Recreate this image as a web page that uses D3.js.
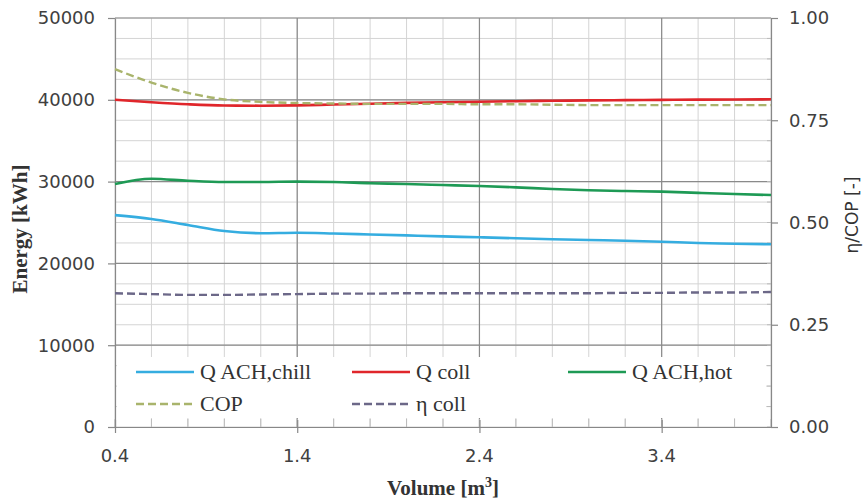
<!DOCTYPE html>
<html>
<head>
<meta charset="utf-8">
<script src="https://cdn.jsdelivr.net/npm/d3@7"></script>
<style>
  body { margin: 0; background: #fff; }
  svg { display: block; }
</style>
</head>
<body>
<svg id="chart" width="865" height="501"></svg>
<script>
/* data */
var volume     = [0.4, 0.6, 0.8, 1.0, 1.2, 1.4, 1.6, 1.8, 2.0, 2.2, 2.4, 2.6, 2.8, 3.0, 3.2, 3.4, 3.6, 3.8, 4.0];
var qAchChill  = [25900, 25430, 24700, 23960, 23690, 23750, 23660, 23540, 23420, 23300, 23190, 23070, 22960, 22860, 22770, 22650, 22500, 22410, 22340];
var qColl      = [40000, 39700, 39450, 39300, 39280, 39320, 39420, 39520, 39620, 39700, 39770, 39830, 39880, 39930, 39960, 39990, 40020, 40040, 40060];
var qAchHot    = [29700, 30350, 30100, 29950, 29950, 30000, 29950, 29800, 29700, 29580, 29460, 29300, 29100, 28950, 28850, 28770, 28620, 28480, 28360];
var cop        = [0.875, 0.842, 0.817, 0.801, 0.795, 0.792, 0.791, 0.790, 0.790, 0.790, 0.789, 0.789, 0.788, 0.787, 0.787, 0.787, 0.787, 0.787, 0.787];
var etaColl    = [0.327, 0.325, 0.323, 0.323, 0.324, 0.325, 0.326, 0.326, 0.327, 0.327, 0.327, 0.327, 0.327, 0.327, 0.328, 0.328, 0.329, 0.329, 0.330];

var energyTicks = [0, 10000, 20000, 30000, 40000, 50000];
var ratioTicks  = [0, 0.25, 0.5, 0.75, 1];
var volumeTicks = [0.4, 1.4, 2.4, 3.4];

var seriesNames = ["Q ACH,chill", "Q coll", "Q ACH,hot", "COP", "\u03b7 coll"];

/* settings */
var width = 865,
    height = 501,
    margin = { top: 18, left: 115, right: 94, bottom: 74 },
    innerWidth = width - margin.left - margin.right,
    innerHeight = height - margin.top - margin.bottom,
    tickFont = "DejaVu Sans, sans-serif",
    serifFont = "Liberation Serif, Times New Roman, serif";

var styles = [
  { color: "#35ade0", dash: null,  width: 2.6, axis: "left"  },
  { color: "#e0262b", dash: null,  width: 2.6, axis: "left"  },
  { color: "#1e9a55", dash: null,  width: 2.6, axis: "left"  },
  { color: "#a9b46c", dash: "8,4", width: 2.4, axis: "right" },
  { color: "#6c6888", dash: "8,4", width: 2.4, axis: "right" }
];

var values = [qAchChill, qColl, qAchHot, cop, etaColl];

var xScale = d3.scaleLinear().domain([0.4, 4.0]).range([0, innerWidth]),
    yScale = d3.scaleLinear().domain([0, 50000]).range([innerHeight, 0]),
    rScale = d3.scaleLinear().domain([0, 1]).range([innerHeight, 0]);

var svg = d3.select("#chart");
var g = svg.append("g")
    .attr("transform", "translate(" + margin.left + "," + margin.top + ")");

/* grid */
var minorX = d3.range(0.4, 4.0001, 0.2),
    minorY = d3.range(0, 50001, 2500),
    minorR = d3.range(0, 1.0001, 0.05);

g.append("g").selectAll("line")
  .data(minorX)
  .enter().append("line")
    .attr("x1", function(d){ return xScale(d); })
    .attr("x2", function(d){ return xScale(d); })
    .attr("y1", 0).attr("y2", innerHeight)
    .attr("stroke", "#d4d4d4").attr("stroke-width", 1);

g.append("g").selectAll("line")
  .data(minorY)
  .enter().append("line")
    .attr("x1", 0).attr("x2", innerWidth)
    .attr("y1", function(d){ return yScale(d); })
    .attr("y2", function(d){ return yScale(d); })
    .attr("stroke", "#d4d4d4").attr("stroke-width", 1);

g.append("g").selectAll("line")
  .data(volumeTicks.slice(1))
  .enter().append("line")
    .attr("x1", function(d){ return xScale(d); })
    .attr("x2", function(d){ return xScale(d); })
    .attr("y1", 0).attr("y2", innerHeight)
    .attr("stroke", "#8a8a8a").attr("stroke-width", 1.2);

g.append("g").selectAll("line")
  .data(energyTicks.slice(1))
  .enter().append("line")
    .attr("x1", 0).attr("x2", innerWidth)
    .attr("y1", function(d){ return yScale(d); })
    .attr("y2", function(d){ return yScale(d); })
    .attr("stroke", "#8a8a8a").attr("stroke-width", 1.2);

/* legend box (covers the grid) */
g.append("rect")
  .attr("x", 2).attr("y", 339)
  .attr("width", innerWidth - 7).attr("height", 61)
  .attr("fill", "#fff");

/* minor ticks, drawn as plain lines */
g.append("g").selectAll("line")
  .data(minorX)
  .enter().append("line")
    .attr("x1", function(d){ return xScale(d); })
    .attr("x2", function(d){ return xScale(d); })
    .attr("y1", innerHeight - 8).attr("y2", innerHeight)
    .attr("stroke", "#bbb");

g.append("g").selectAll("line")
  .data(minorR)
  .enter().append("line")
    .attr("x1", innerWidth - 4).attr("x2", innerWidth)
    .attr("y1", function(d){ return rScale(d); })
    .attr("y2", function(d){ return rScale(d); })
    .attr("stroke", "#bbb");

/* axes: lines from d3 axes, labels placed in page coordinates */
function styleAxis(sel) {
  sel.select(".domain").attr("stroke", "#888").attr("stroke-width", 1.2);
  sel.selectAll(".tick line").attr("stroke", "#888").attr("stroke-width", 1.2);
  sel.selectAll(".tick text").remove();
}

g.append("g")
  .attr("class", "y-axis")
  .call(d3.axisLeft(yScale).tickValues(energyTicks).tickSize(7).tickSizeOuter(0))
  .call(styleAxis);

g.append("g")
  .attr("class", "r-axis")
  .attr("transform", "translate(" + innerWidth + ",0)")
  .call(d3.axisRight(rScale).tickValues(ratioTicks).tickSize(7).tickSizeOuter(0))
  .call(styleAxis);

g.append("g")
  .attr("class", "x-axis")
  .attr("transform", "translate(0," + innerHeight + ")")
  .call(d3.axisBottom(xScale).tickValues(volumeTicks).tickSize(6).tickSizeOuter(0))
  .call(styleAxis)
  .call(function(s){ s.selectAll(".tick line").attr("y1", -7); });

var labels = svg.append("g")
  .attr("font-family", tickFont)
  .attr("font-size", 18)
  .attr("fill", "#404040");

labels.selectAll(".ylab")
  .data(energyTicks)
  .enter().append("text")
    .attr("class", "ylab")
    .attr("x", margin.left - 20)
    .attr("y", function(d){ return margin.top + yScale(d); })
    .attr("dy", "0.35em")
    .attr("text-anchor", "end")
    .text(d3.format("d"));

labels.selectAll(".rlab")
  .data(ratioTicks)
  .enter().append("text")
    .attr("class", "rlab")
    .attr("x", margin.left + innerWidth + 18)
    .attr("y", function(d){ return margin.top + rScale(d); })
    .attr("dy", "0.35em")
    .attr("text-anchor", "start")
    .text(d3.format(".2f"));

labels.selectAll(".xlab")
  .data(volumeTicks)
  .enter().append("text")
    .attr("class", "xlab")
    .attr("x", function(d){ return margin.left + xScale(d); })
    .attr("y", margin.top + innerHeight + 35)
    .attr("text-anchor", "middle")
    .text(d3.format(".1f"));

/* lines */
values.forEach(function(vals, i) {
  var st = styles[i];
  var sc = st.axis === "left" ? yScale : rScale;
  var line = d3.line()
    .x(function(d, j){ return xScale(volume[j]); })
    .y(function(d){ return sc(d); })
    .curve(d3.curveMonotoneX);
  g.append("path")
    .datum(vals)
    .attr("d", line)
    .attr("fill", "none")
    .attr("stroke", st.color)
    .attr("stroke-width", st.width)
    .attr("stroke-dasharray", st.dash);
});

/* legend entries */
var legend = g.append("g").attr("id", "legend");
var legendPos = [[21, 354], [237, 354], [453, 354], [21, 386], [237, 386]];
seriesNames.forEach(function(name, i) {
  var p = legendPos[i], st = styles[i];
  legend.append("line")
    .attr("x1", p[0]).attr("x2", p[0] + 58)
    .attr("y1", p[1]).attr("y2", p[1])
    .attr("stroke", st.color)
    .attr("stroke-width", st.width)
    .attr("stroke-dasharray", st.dash);
  legend.append("text")
    .attr("x", p[0] + 64).attr("y", p[1] + 7)
    .attr("font-family", serifFont)
    .attr("font-size", 22)
    .attr("fill", "#333")
    .text(name);
});

/* axis titles (rotated ones keep positive local coordinates) */
svg.append("text")
  .attr("transform", "translate(0,529) rotate(-90)")
  .attr("x", 300).attr("y", 27)
  .attr("text-anchor", "middle")
  .attr("font-family", serifFont)
  .attr("font-weight", "bold")
  .attr("font-size", 21)
  .attr("fill", "#333")
  .text("Energy [kWh]");

var vTitle = svg.append("text")
  .attr("x", 443).attr("y", 495)
  .attr("text-anchor", "middle")
  .attr("font-family", serifFont)
  .attr("font-weight", "bold")
  .attr("font-size", 21)
  .attr("fill", "#333");
vTitle.append("tspan").text("Volume [m");
vTitle.append("tspan").attr("dy", -8).attr("font-size", 14).text("3");
vTitle.append("tspan").attr("dy", 8).text("]");

svg.append("text")
  .attr("transform", "translate(558,515) rotate(-90)")
  .attr("x", 300).attr("y", 300)
  .attr("text-anchor", "middle")
  .attr("font-family", tickFont)
  .attr("font-size", 17)
  .attr("fill", "#333")
  .text("\u03b7/COP [-]");
</script>
</body>
</html>
